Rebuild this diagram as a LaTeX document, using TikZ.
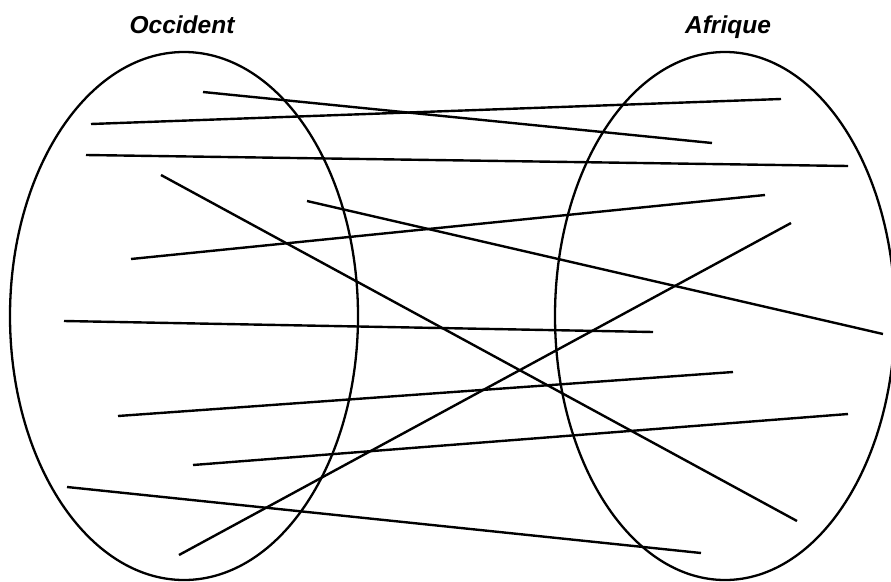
\documentclass[tikz,border=0pt]{standalone}
\usepackage{fontspec}
\setsansfont{Liberation Sans}
\usetikzlibrary{shapes.geometric}
\tikzset{
  region/.style={draw=black, ellipse, line width=2.3pt, inner sep=0pt,
    minimum width=#1, minimum height=528pt},
  title/.style={font=\sffamily\bfseries\itshape\fontsize{24.5}{28}\selectfont,
    text=black, anchor=base},
  link/.style={draw=black, line width=2.4pt}
}
\begin{document}
\begin{tikzpicture}[x=1pt,y=-1pt]
  \useasboundingbox (0,0) rectangle (891,581);

  \node[region=348pt] (occident) at (184,316) {};
  \node[region=340pt] (afrique) at (725,316) {};

  \node[title] (occlabel) at (182,33) {Occident};
  \node[title] (afrlabel) at (728,33) {Afrique};

  % end points on the left
  \coordinate (o1) at (203,92);
  \coordinate (o2) at (91,124);
  \coordinate (o3) at (86,155);
  \coordinate (o4) at (161,175);
  \coordinate (o5) at (307,201);
  \coordinate (o6) at (131,259);
  \coordinate (o7) at (64,321);
  \coordinate (o8) at (118,416);
  \coordinate (o9) at (193,465);
  \coordinate (o10) at (67,487);
  \coordinate (o11) at (179,555);

  % end points on the right
  \coordinate (a1) at (712,143);
  \coordinate (a2) at (781,99);
  \coordinate (a3) at (848,166);
  \coordinate (a4) at (797,521);
  \coordinate (a5) at (883,334);
  \coordinate (a6) at (765,195);
  \coordinate (a7) at (653,332);
  \coordinate (a8) at (733,372);
  \coordinate (a9) at (848,414);
  \coordinate (a10) at (701,553);
  \coordinate (a11) at (791,223);

  \draw[link] (o1) -- (a1);
  \draw[link] (o2) -- (a2);
  \draw[link] (o3) -- (a3);
  \draw[link] (o4) -- (a4);
  \draw[link] (o5) -- (a5);
  \draw[link] (o6) -- (a6);
  \draw[link] (o7) -- (a7);
  \draw[link] (o8) -- (a8);
  \draw[link] (o9) -- (a9);
  \draw[link] (o10) -- (a10);
  \draw[link] (o11) -- (a11);
\end{tikzpicture}
\end{document}
